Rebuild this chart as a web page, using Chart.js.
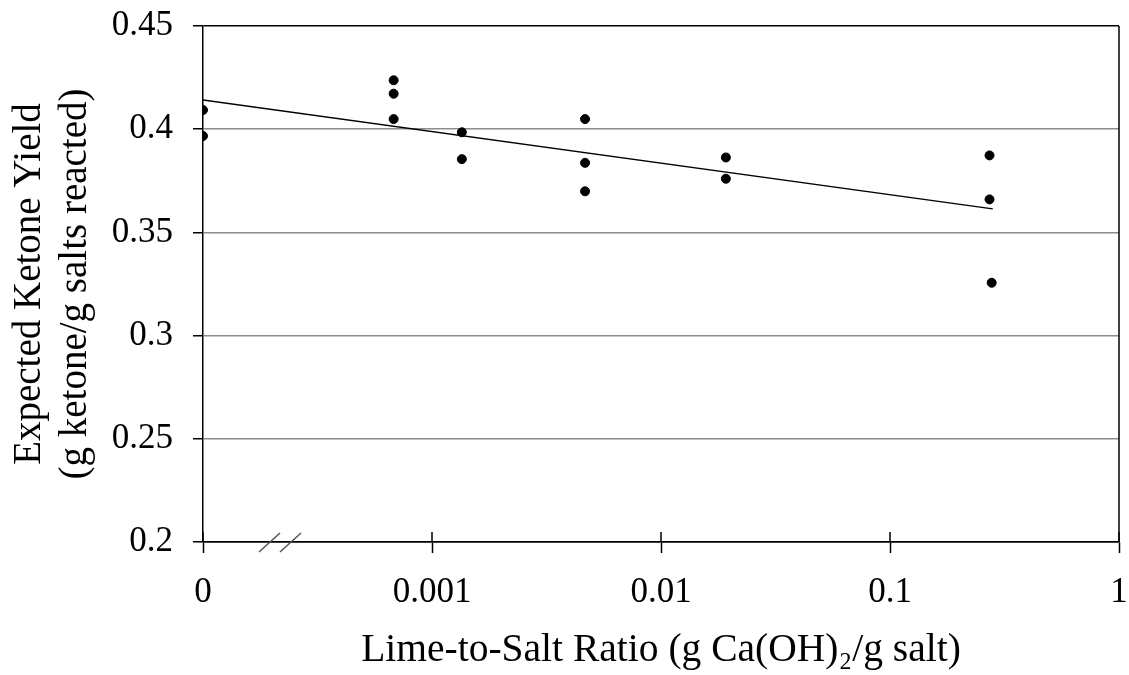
<!DOCTYPE html>
<html>
<head>
<meta charset="utf-8">
<script src="https://cdn.jsdelivr.net/npm/chart.js@4"></script>
<style>
  body { margin: 0; background: #fff; }
  canvas { display: block; }
</style>
</head>
<body>
<canvas id="chart" width="1129" height="675"></canvas>
<script>
// the "0" category sits one decade left of 0.001 (axis is broken there)
const ZERO_AT = 0.0001;

const limeRatio = [0, 0, 0.00068, 0.00068, 0.00068, 0.00135, 0.00135,
    0.00466, 0.00466, 0.00466, 0.0192, 0.0192, 0.272, 0.272, 0.278];
const ketoneYield = [0.4093, 0.3967, 0.4237, 0.4172, 0.4049, 0.3985, 0.3855,
    0.4049, 0.3837, 0.3699, 0.3863, 0.3760, 0.3873, 0.3660, 0.3256];

const trendX = [0, 0.281];
const trendY = [0.4141, 0.3614];

const xTickValues = [0.0001, 0.001, 0.01, 0.1, 1];
const xTickLabels = ['0', '0.001', '0.01', '0.1', '1'];
const yTickValues = [0.2, 0.25, 0.3, 0.35, 0.4, 0.45];
const yTickLabels = ['0.2', '0.25', '0.3', '0.35', '0.4', '0.45'];

const pos = v => (v === 0 ? ZERO_AT : v);

const serif = '"Liberation Serif", "Times New Roman", serif';

const framePlugin = {
    id: 'frame',
    afterDraw(chart) {
        const ctx = chart.ctx;
        const a = chart.chartArea;
        const xs = chart.scales.x;
        ctx.save();
        ctx.strokeStyle = '#000';
        ctx.lineWidth = 1.5;
        // right edge of the plot box
        ctx.beginPath();
        ctx.moveTo(a.right, a.top);
        ctx.lineTo(a.right, a.bottom);
        ctx.stroke();
        // inner half of the x ticks (they cross the axis)
        ctx.beginPath();
        xTickValues.forEach(v => {
            const px = xs.getPixelForValue(v);
            ctx.moveTo(px, a.bottom);
            ctx.lineTo(px, a.bottom - 10);
        });
        ctx.stroke();
        // axis break marks
        ctx.strokeStyle = '#555';
        ctx.lineWidth = 1.5;
        [0, 21].forEach(dx => {
            ctx.beginPath();
            ctx.moveTo(a.left + 56 + dx, a.bottom + 10);
            ctx.lineTo(a.left + 77 + dx, a.bottom - 9);
            ctx.stroke();
        });
        ctx.restore();
    }
};

new Chart(document.getElementById('chart').getContext('2d'), {
    type: 'scatter',
    data: {
        datasets: [{
            label: 'Yield',
            data: limeRatio.map((x, i) => ({ x: pos(x), y: ketoneYield[i] })),
            backgroundColor: '#000',
            borderColor: '#000',
            pointRadius: 4.5,
            pointHoverRadius: 4.5
        }, {
            label: 'Trend',
            type: 'line',
            data: trendX.map((x, i) => ({ x: pos(x), y: trendY[i] })),
            borderColor: '#000',
            borderWidth: 1.5,
            pointRadius: 0,
            fill: false
        }]
    },
    options: {
        responsive: false,
        animation: false,
        layout: { padding: { top: 26, right: 10, left: 0, bottom: 0 } },
        plugins: {
            legend: { display: false },
            tooltip: { enabled: false }
        },
        scales: {
            x: {
                type: 'logarithmic',
                min: 0.0001,
                max: 1,
                afterBuildTicks: s => { s.ticks = xTickValues.map(v => ({ value: v })); },
                afterFit: s => { s.height = 133; s.paddingLeft = 0; s.paddingRight = 0; },
                ticks: {
                    autoSkip: false,
                    maxRotation: 0,
                    padding: 19,
                    color: '#000',
                    font: { family: serif, size: 35 },
                    callback: (v, i) => xTickLabels[i]
                },
                grid: {
                    drawOnChartArea: false,
                    tickLength: 11,
                    tickColor: '#000',
                    tickWidth: 1.5
                },
                border: { color: '#000', width: 1.5 },
                title: {
                    display: true,
                    text: 'Lime-to-Salt Ratio (g Ca(OH)\u2082/g salt)',
                    color: '#000',
                    font: { family: serif, size: 39.5, lineHeight: 1.2 },
                    padding: { top: 0, bottom: 1 }
                }
            },
            y: {
                min: 0.2,
                max: 0.45,
                afterBuildTicks: s => { s.ticks = yTickValues.map(v => ({ value: v })); },
                afterFit: s => { s.width = 203; s.paddingTop = 0; s.paddingBottom = 0; },
                ticks: {
                    padding: 20,
                    color: '#000',
                    font: { family: serif, size: 35 },
                    callback: (v, i) => yTickLabels[i]
                },
                grid: {
                    color: c => (c.tick && (c.tick.value <= 0.2 || c.tick.value >= 0.45) ? '#000' : '#8c8c8c'),
                    lineWidth: 1.5,
                    tickLength: 10,
                    tickColor: '#000'
                },
                border: { color: '#000', width: 1.5 },
                title: {
                    display: true,
                    text: ['Expected Ketone Yield', '(g ketone/g salts reacted)'],
                    color: '#000',
                    font: { family: serif, size: 39, lineHeight: 1.2 },
                    padding: { top: 6, bottom: 0 }
                }
            }
        }
    },
    plugins: [framePlugin]
});
</script>
</body>
</html>
